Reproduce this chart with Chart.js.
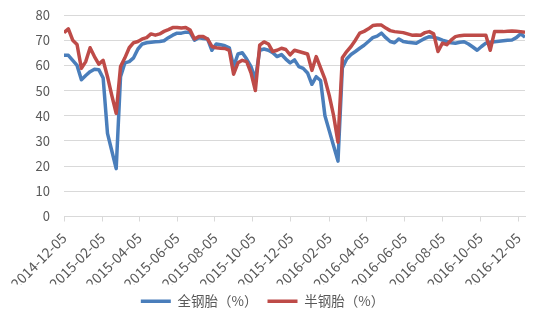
<!DOCTYPE html>
<html>
<head>
<meta charset="utf-8">
<script src="https://cdn.jsdelivr.net/npm/chart.js@4/dist/chart.umd.min.js"></script>
<style>
  html, body { margin: 0; padding: 0; background: #fff; }
  #wrap { width: 552px; height: 325px; position: relative; }
</style>
</head>
<body>
<div id="wrap"><canvas id="rateChart"></canvas></div>
<script>
// weekly readings (Fridays), first one on START_DATE
const START_DATE = "2014-12-05";

const tickLabels = [
  "2014-12-05", "2015-02-05", "2015-04-05", "2015-06-05", "2015-08-05",
  "2015-10-05", "2015-12-05", "2016-02-05", "2016-04-05", "2016-06-05",
  "2016-08-05", "2016-10-05", "2016-12-05",
];

const seriesNames = ["全钢胎（%）", "半钢胎（%）"];

const fullSteel = [
  64, 64, 62, 60, 54.3, 56, 57.5, 58.5, 58.3, 55, 33, 26, 19,
  55.5, 61, 61.5, 63, 66.5, 68.5, 69, 69.2, 69.4, 69.5, 69.8, 71, 72, 72.8, 72.8, 73.2,
  73, 70, 71, 70.7, 70.5, 66, 68.5, 68.2, 67.8, 67, 59.5, 64.5, 65, 62.5, 59.5, 54.5,
  66, 66.5, 66, 65, 63.5, 64.3, 62.5, 61, 62.2, 59.5, 58.8, 57, 52.5, 55.5, 54, 40, 34, 28, 22,
  59, 62.5, 64.3, 65.5, 66.8, 68, 69.5, 71, 71.6, 72.8,
  71, 69.5, 69, 70.5, 69.5, 69.2, 69, 68.8, 69.8, 70.7, 71.4, 71.2, 70.7, 70, 69.5, 69,
  68.8, 69.2, 69.4, 68.5, 67.3, 66, 67.5, 68.8, 69.2, 69.4, 69.6, 69.8, 70, 70.1, 71, 72.5, 71.2,
];

const semiSteel = [
  73, 74.5, 70, 68.3, 58.8, 61.5, 67, 63.5, 60.5, 62, 55.5, 48, 41,
  59.5, 63, 67, 69, 69.5, 70.5, 71, 72.5, 72, 72.5, 73.5, 74.2, 75, 75, 74.8, 75,
  74, 70.5, 71.5, 71.5, 70.5, 67.5, 67, 66.8, 66.7, 66, 56.5, 61, 62, 61.5, 57, 50,
  68, 69.3, 68.5, 65.5, 66, 66.8, 66.3, 64.2, 66, 65.5, 65, 64.5, 58, 63.5, 59, 54.5, 48, 40, 29.5,
  63, 65.5, 67.5, 70, 72.8, 73.5, 74.5, 75.8, 76, 76,
  74.8, 73.8, 73.4, 73.2, 73, 72.5, 72, 72.1, 72, 73, 73.4, 72.5, 65.5, 68.8, 68.2, 70,
  71.4, 71.8, 72, 72, 72, 72, 72, 72, 66, 73.4, 73.4, 73.4, 73.5, 73.6, 73.5, 73.4, 73.1,
];

const BLUE = "#4a7ebb";
const RED = "#be4b48";
const TEXT = "#595959";
const FONT = "'Noto Sans CJK SC', 'Noto Sans', sans-serif";

function dayOffset(dateStr) {
  return Math.round((Date.parse(dateStr) - Date.parse(START_DATE)) / 86400000);
}

function toPoints(values) {
  return values.map(function (v, i) {
    return { x: i * 7, y: v };
  });
}

const tickDays = tickLabels.map(dayOffset);
const labelByDay = {};
tickLabels.forEach(function (lbl) {
  labelByDay[dayOffset(lbl)] = lbl;
});

Chart.defaults.font.family = FONT;
Chart.defaults.font.size = 13;
Chart.defaults.color = TEXT;

const ctx = document.getElementById("rateChart").getContext("2d");

new Chart(ctx, {
  type: "line",
  data: {
    datasets: [
      {
        label: seriesNames[0],
        data: toPoints(fullSteel),
        borderColor: BLUE,
        backgroundColor: BLUE,
        borderWidth: 3.5,
        pointRadius: 0,
        tension: 0,
        borderJoinStyle: "round",
        order: 2,
      },
      {
        label: seriesNames[1],
        data: toPoints(semiSteel),
        borderColor: RED,
        backgroundColor: RED,
        borderWidth: 3.5,
        pointRadius: 0,
        tension: 0,
        borderJoinStyle: "round",
        order: 1,
      },
    ],
  },
  options: {
    responsive: true,
    maintainAspectRatio: false,
    animation: false,
    layout: {
      padding: { top: 0, right: 27, bottom: 7, left: 0 },
    },
    plugins: {
      tooltip: { enabled: false },
      legend: {
        position: "bottom",
        labels: {
          usePointStyle: true,
          pointStyle: "line",
          pointStyleWidth: 30,
          boxHeight: 4,
          padding: 10,
          color: TEXT,
          font: { size: 13.5 },
          sort: function (a, b) {
            return a.datasetIndex - b.datasetIndex;
          },
        },
      },
    },
    scales: {
      x: {
        type: "linear",
        min: 0,
        max: (fullSteel.length - 1) * 7,
        afterBuildTicks: function (scale) {
          scale.ticks = tickDays.map(function (d) {
            return { value: d };
          });
        },
        afterFit: function (scale) {
          scale.height = 68;
          scale.paddingLeft = 0;
          scale.paddingRight = 0;
        },
        ticks: {
          autoSkip: false,
          minRotation: 45,
          maxRotation: 45,
          padding: 8,
          color: TEXT,
          font: { size: 14 },
          callback: function (value) {
            return labelByDay[value] || "";
          },
        },
        grid: {
          drawOnChartArea: false,
          drawTicks: true,
          tickLength: 5,
          color: "#d9d9d9",
        },
        border: { display: true, color: "#d9d9d9", width: 1 },
      },
      y: {
        min: 0,
        max: 80,
        afterFit: function (scale) {
          scale.width = 64;
          scale.paddingTop = 15;
          scale.paddingBottom = 0;
        },
        ticks: {
          stepSize: 10,
          padding: 14,
          color: TEXT,
        },
        grid: {
          color: "#d9d9d9",
          drawTicks: false,
        },
        border: { display: false },
      },
    },
  },
});
</script>
</body>
</html>
